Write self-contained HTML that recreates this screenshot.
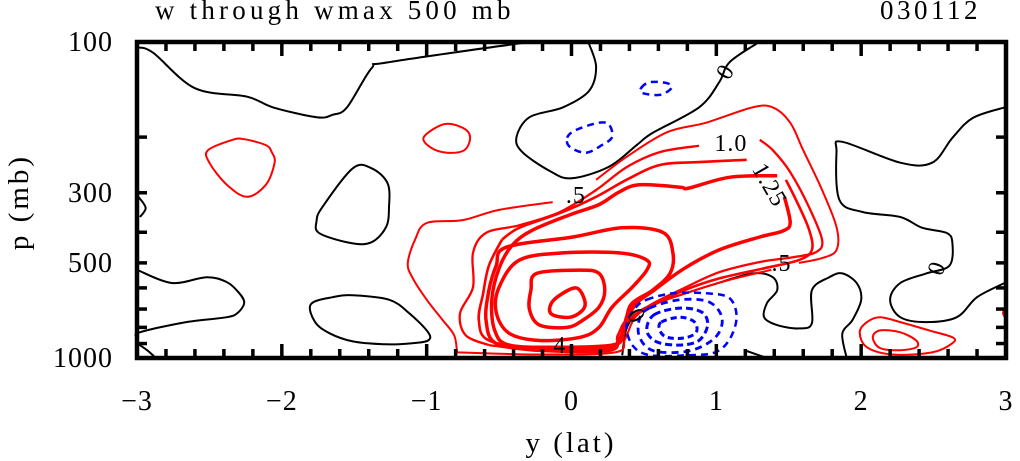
<!DOCTYPE html>
<html><head><meta charset="utf-8"><style>
body{margin:0;background:#fff;}
svg{display:block;}
text{font-family:"Liberation Serif",serif;fill:#000;}
</style></head><body>
<svg id="chart" width="1020" height="461" viewBox="0 0 1020 461" xmlns="http://www.w3.org/2000/svg">
<text x="155" y="19" font-size="27" letter-spacing="4.2">w through wmax 500 mb</text>
<text x="880" y="19" font-size="27" letter-spacing="3.5">030112</text>
<g id="contours"></g>
<g id="axes"></g>
<text x="571" y="452" font-size="29" letter-spacing="3" text-anchor="middle">y (lat)</text>
<text transform="translate(28,202) rotate(-90)" font-size="29" letter-spacing="3" text-anchor="middle">p (mb)</text>
</svg>
<script>
const xTicks=[-3,-2,-1,0,1,2,3];
const xTickLabels=["\u22123","\u22122","\u22121","0","1","2","3"];
const yTicks=[100,300,500,1000];
const yTickLabels=["100","300","500","1000"];
const yMinorTicks=[200,300,400,500,600,700,800,900];

// contour data: latitude and pressure (mb)
const cA_lat=[-3,-2.89,-2.6,-2.24,-2.06,-1.76,-1.65,-1.55,-1.38,-1.27,-0.36,-0.22];
const cA_p=[104,108,140,149,161,173,170,161,121,116,101,100];
const cB_lat=[0.12,0.17,0.12,-0.06,-0.29,-0.38,-0.34,-0.15,0,0.26,0.45,0.56,0.88,1.02,1.09,1.28];
const cB_p=[101,120,143,161,173,200,223,256,270,248,212,194,161,134,116,101];
const cC_lat=[-1.51,-1.38,-1.27,-1.26,-1.28,-1.38,-1.52,-1.74,-1.76,-1.72,-1.51];
const cC_p=[251,251,280,333,385,430,433,403,368,333,251];
const cD_lat=[-3,-2.76,-2.52,-2.38,-2.30,-2.26,-2.30,-2.38,-2.66,-2.98,-3];
const cD_p=[526,579,555,575,619,666,716,743,770,829,860];
const cE_lat=[-3,-2.93,-2.87];
const cE_p=[898,945,1000];
const cF_lat=[-2.99,-2.94,-2.98];
const cF_p=[309,335,358];
const cG_lat=[-1.80,-1.65,-1.51,-1.26,-1.12,-0.99,-0.99,-1.10,-1.28,-1.51,-1.67,-1.77,-1.80];
const cG_p=[676,642,633,654,722,829,880,898,905,886,835,770,676];
const cH_lat=[2.99,2.77,2.63,2.49,2.27,1.87,1.83,1.85,2.01,2.27,2.42,2.59,2.63,2.61,2.45,2.27,2.20,2.27,2.45,2.66,2.80,2.99];
const cH_p=[161,174,201,241,241,207,223,316,345,358,387,402,433,510,540,579,654,743,770,743,642,579];
const cI_lat=[0.35,0.38,0.45,0.56,0.79,0.97,1.25,1.39,1.42,1.35,1.33,1.42,1.57,1.66,1.66,1.78,1.87,1.97,2.00,1.94,1.87,1.90];
const cI_p=[980,807,723,677,624,587,540,555,610,670,743,787,806,776,610,555,540,580,655,758,838,1000];
const cJ_lat=[1.21,1.35];
const cJ_p=[950,1000];

const rA1_lat=[-0.79,-0.81,-0.89,-1.0,-1.10,-1.13,-1.08,-1.0,-0.75,-0.50,-0.13];
const rA1_p=[960,848,758,654,555,500,422,374,366,340,321];
const rA2_lat=[0.17,0.38,0.66,0.93,1.25,1.39,1.51,1.60,1.73,1.83,1.83,1.73,1.57];
const rA2_p=[273,231,193,180,161,161,180,220,294,385,455,483,500];
const rA3_lat=[1.38,1.09,0.81,0.57,0.44,0.37,0.30,-0.22,-0.79];
const rA3_p=[526,566,619,677,743,870,960,975,960];
const rB1_lat=[-0.57,-0.73,-0.77,-0.68,-0.68,-0.59,-0.36,-0.08,0.17,0.38,0.61,0.88];
const rB1_p=[910,848,723,597,465,402,380,345,294,249,223,213];
const rB2_lat=[1.30,1.39,1.51,1.64,1.73,1.69,1.54,1.30,1.02,0.78,0.55,0.40,0.33,0.26,-0.22,-0.57];
const rB2_p=[204,220,258,333,423,462,479,497,535,600,677,758,864,950,950,910];
const rC1_lat=[-0.48,-0.57,-0.61,-0.64,-0.57,-0.22,0.26,0.32,0.38,0.54,0.78,1.02,1.33,1.57,1.66,1.64,1.55,1.48];
const rC1_p=[422,510,624,758,880,935,935,848,758,690,610,560,520,490,455,392,316,273];
const rC2_lat=[1.21,0.88,0.61,0.38,0.17,-0.08,-0.36,-0.48];
const rC2_p=[236,240,245,273,309,348,387,422];
const rD_lat=[1.47,1.51,1.46,1.30,1.02,0.78,0.57,0.44,0.37,0.30,-0.08,-0.43,-0.53,-0.55,-0.50,-0.41,-0.27,-0.01,0.19,0.33,0.47,0.75,0.81,1.09,1.42];
const rD_p=[309,373,396,414,455,520,610,677,787,910,925,910,818,654,520,440,394,352,327,298,283,288,290,268,265];
const rT1_lat=[-0.45,0.01,0.35,0.63,0.70,0.68,0.56,0.42,0.38,0.35,0.28,-0.22,-0.52,-0.59,-0.57,-0.52,-0.45];
const rT1_p=[446,414,387,400,465,540,610,670,743,835,910,925,900,758,610,510,446];
const rT2_lat=[-0.36,-0.06,0.33,0.52,0.52,0.42,0.28,0.19,0.06,-0.22,-0.43,-0.52,-0.50,-0.36];
const rT2_p=[490,465,465,490,527,597,690,800,860,880,835,716,597,490];
const rT3_lat=[-0.24,0.06,0.19,0.23,0.19,0.08,-0.03,-0.22,-0.29,-0.28,-0.24];
const rT3_p=[540,527,540,610,690,758,800,787,703,610,540];
const rT4_lat=[-0.15,-0.10,0.03,0.09,0.08,-0.01,-0.13,-0.15];
const rT4_p=[690,642,600,654,703,743,730,690];
const rR1_lat=[1.99,2.04,2.13,2.27,2.47,2.63,2.63,2.49,2.22,2.04,1.99];
const rR1_p=[829,770,743,770,818,860,898,960,975,925,829];
const rR2_lat=[2.08,2.13,2.27,2.38,2.38,2.27,2.13,2.08];
const rR2_p=[860,818,829,880,925,945,930,860];
const rEdge_lat=[2.99,2.98,3.0];
const rEdge_p=[695,723,750];
const rL1_lat=[-2.51,-2.34,-2.26,-2.11,-2.07,-2.05,-2.11,-2.24,-2.38,-2.50,-2.51];
const rL1_p=[220,204,203,212,223,241,283,309,283,241,220];
const rL2_lat=[-1.02,-0.88,-0.75,-0.70,-0.74,-0.86,-0.97,-1.02];
const rL2_p=[200,182,187,200,220,224,216,200];

const bL1_lat=[0.48,0.54,0.66,0.69,0.61,0.49,0.48];
const bL1_p=[140,134,135,140,147,145,140];
const bL2_lat=[-0.03,0.03,0.19,0.26,0.28,0.21,0.10,-0.01,-0.03];
const bL2_p=[201,190,180,183,200,212,224,215,201];
const bE1_lat=[0.52,0.70,0.93,1.09,1.14,1.09,0.99,0.81,0.54,0.42,0.38,0.44,0.52];
const bE1_p=[654,624,624,646,743,875,960,980,980,910,787,695,654];
const bE2_lat=[0.54,0.75,0.95,1.04,0.99,0.81,0.57,0.47,0.47,0.54];
const bE2_p=[695,654,665,750,864,950,950,860,750,695];
const bE3_lat=[0.57,0.75,0.90,0.94,0.88,0.75,0.59,0.52,0.57];
const bE3_p=[730,695,716,787,880,910,890,818,730];
const bE4_lat=[0.62,0.75,0.85,0.86,0.78,0.66,0.61,0.62];
const bE4_p=[770,743,770,830,864,860,818,770];
const bBot_lat=[-0.27,0.03];
const bBot_p=[995,995];

const labelText=["0","0",".5","1.0","1.25",".5","4","0"];
const labelLat=[1.06,2.52,0.03,1.10,1.37,1.45,-0.08,0.45];
const labelP=[124,519,305,209,283,500,910,735];
const labelRot=[-60,-70,0,0,60,0,0,60];

const X0=137,X1=1006,Y0=42,Y1=358;
function sx(lat){return X0+(lat+3)/6*(X1-X0);}
function sy(p){return Y0+Math.log10(p/100)*(Y1-Y0);}
const NS="http://www.w3.org/2000/svg";
const cg=document.getElementById('contours');
const ag=document.getElementById('axes');

const lines=[
 ["contour-zero-a",cA_lat,cA_p,"#000",2,null],
 ["contour-zero-b",cB_lat,cB_p,"#000",2,null],
 ["contour-zero-c",cC_lat,cC_p,"#000",2,null],
 ["contour-zero-d",cD_lat,cD_p,"#000",2,null],
 ["contour-zero-e",cE_lat,cE_p,"#000",2,null],
 ["contour-zero-f",cF_lat,cF_p,"#000",2,null],
 ["contour-zero-g",cG_lat,cG_p,"#000",2,null],
 ["contour-zero-h",cH_lat,cH_p,"#000",2,null],
 ["contour-zero-i",cI_lat,cI_p,"#000",2,null],
 ["contour-zero-j",cJ_lat,cJ_p,"#000",2,null],
 ["contour-pos-a1",rA1_lat,rA1_p,"#ff0000",2,null],
 ["contour-pos-a2",rA2_lat,rA2_p,"#ff0000",2,null],
 ["contour-pos-a3",rA3_lat,rA3_p,"#ff0000",2,null],
 ["contour-pos-b1",rB1_lat,rB1_p,"#ff0000",2.3,null],
 ["contour-pos-b2",rB2_lat,rB2_p,"#ff0000",2.3,null],
 ["contour-pos-c1",rC1_lat,rC1_p,"#ff0000",2.6,null],
 ["contour-pos-c2",rC2_lat,rC2_p,"#ff0000",2.6,null],
 ["contour-pos-d",rD_lat,rD_p,"#ff0000",3.5,null],
 ["contour-pos-t1",rT1_lat,rT1_p,"#ff0000",3.5,null],
 ["contour-pos-t2",rT2_lat,rT2_p,"#ff0000",3.5,null],
 ["contour-pos-t3",rT3_lat,rT3_p,"#ff0000",3.5,null],
 ["contour-pos-t4",rT4_lat,rT4_p,"#ff0000",3.5,null],
 ["contour-pos-r1",rR1_lat,rR1_p,"#ff0000",2,null],
 ["contour-pos-r2",rR2_lat,rR2_p,"#ff0000",2,null],
 ["contour-pos-edge",rEdge_lat,rEdge_p,"#ff0000",2,null],
 ["contour-pos-l1",rL1_lat,rL1_p,"#ff0000",2,null],
 ["contour-pos-l2",rL2_lat,rL2_p,"#ff0000",2,null],
 ["contour-neg-1",bL1_lat,bL1_p,"#0000ff",2.5,"7 5"],
 ["contour-neg-2",bL2_lat,bL2_p,"#0000ff",2.5,"7 5"],
 ["contour-neg-e1",bE1_lat,bE1_p,"#0000ff",2.5,"7 5"],
 ["contour-neg-e2",bE2_lat,bE2_p,"#0000ff",2.8,"7 5"],
 ["contour-neg-e3",bE3_lat,bE3_p,"#0000ff",3,"7 4"],
 ["contour-neg-e4",bE4_lat,bE4_p,"#0000ff",3,"6 4"],
 ["contour-neg-bottom",bBot_lat,bBot_p,"#0000ff",2.5,"7 5"]
];
function smoothPath(pts){
  const n=pts.length;
  if(n<3){return pts.map((q,i)=>(i?"L":"M")+q[0].toFixed(1)+","+q[1].toFixed(1)).join("");}
  const closed=Math.abs(pts[0][0]-pts[n-1][0])<0.5&&Math.abs(pts[0][1]-pts[n-1][1])<0.5;
  const P=i=>{
    if(closed){const m=n-1;return pts[((i%m)+m)%m];}
    return pts[Math.max(0,Math.min(n-1,i))];
  };
  let d="M"+pts[0][0].toFixed(1)+","+pts[0][1].toFixed(1);
  for(let i=0;i<n-1;i++){
    const p0=P(i-1),p1=P(i),p2=P(i+1),p3=P(i+2);
    const c1=[p1[0]+(p2[0]-p0[0])/6,p1[1]+(p2[1]-p0[1])/6];
    const c2=[p2[0]-(p3[0]-p1[0])/6,p2[1]-(p3[1]-p1[1])/6];
    d+="C"+c1[0].toFixed(1)+","+c1[1].toFixed(1)+" "+c2[0].toFixed(1)+","+c2[1].toFixed(1)+" "+p2[0].toFixed(1)+","+p2[1].toFixed(1);
  }
  return d;
}
for(const ln of lines){
  const lat=ln[1],p=ln[2];
  const pts=lat.map((v,i)=>[sx(v),sy(p[i])]);
  const path=document.createElementNS(NS,'path');
  path.setAttribute('d',smoothPath(pts));
  path.setAttribute('fill','none');
  path.setAttribute('stroke',ln[3]);
  path.setAttribute('stroke-width',ln[4]);
  path.setAttribute('stroke-linejoin','round');
  if(ln[5])path.setAttribute('stroke-dasharray',ln[5]);
  
  
  cg.appendChild(path);
}
for(let i=0;i<labelText.length;i++){
  const t=document.createElementNS(NS,'text');
  const x=sx(labelLat[i]),y=sy(labelP[i]);
  t.setAttribute('x',x);t.setAttribute('y',y+8);
  t.setAttribute('font-size','24');
  t.setAttribute('letter-spacing','1');
  t.setAttribute('text-anchor','middle');
  t.setAttribute('transform','rotate('+labelRot[i]+' '+x+' '+y+')');
  t.textContent=labelText[i];
  
  
  cg.appendChild(t);
}
function ln2(x1,y1,x2,y2,w,name){
  const l=document.createElementNS(NS,'line');
  l.setAttribute('x1',x1);l.setAttribute('y1',y1);l.setAttribute('x2',x2);l.setAttribute('y2',y2);
  l.setAttribute('stroke','#000');l.setAttribute('stroke-width',w);
  
  
  ag.appendChild(l);
}
for(let k=-15;k<=15;k++){
  const x=sx(k/5);const major=(k%5===0);
  const len=major?14:9;
  ln2(x,Y0,x,Y0+len,3.5,'x-tick-top');
  ln2(x,Y1,x,Y1-len,3.5,'x-tick-bottom');
}
for(const p of yMinorTicks){
  const y=sy(p);
  ln2(X0,y,X0+10,y,3.5,'y-tick-left');
  ln2(X1,y,X1-10,y,3.5,'y-tick-right');
}
const fr=document.createElementNS(NS,'rect');
fr.setAttribute('x',X0);fr.setAttribute('y',Y0);fr.setAttribute('width',X1-X0);fr.setAttribute('height',Y1-Y0);
fr.setAttribute('fill','none');fr.setAttribute('stroke','#000');fr.setAttribute('stroke-width','4.5');


ag.appendChild(fr);
for(let i=0;i<xTicks.length;i++){
  const t=document.createElementNS(NS,'text');
  t.setAttribute('x',sx(xTicks[i]));t.setAttribute('y',410);
  t.setAttribute('font-size','28');t.setAttribute('letter-spacing','1');t.setAttribute('text-anchor','middle');
  t.textContent=xTickLabels[i];
  
  
  ag.appendChild(t);
}
for(let i=0;i<yTicks.length;i++){
  const t=document.createElementNS(NS,'text');
  t.setAttribute('x',113);t.setAttribute('y',sy(yTicks[i])+9);
  t.setAttribute('font-size','28');t.setAttribute('letter-spacing','1');t.setAttribute('text-anchor','end');
  t.textContent=yTickLabels[i];
  
  
  ag.appendChild(t);
}
</script>
</body></html>
